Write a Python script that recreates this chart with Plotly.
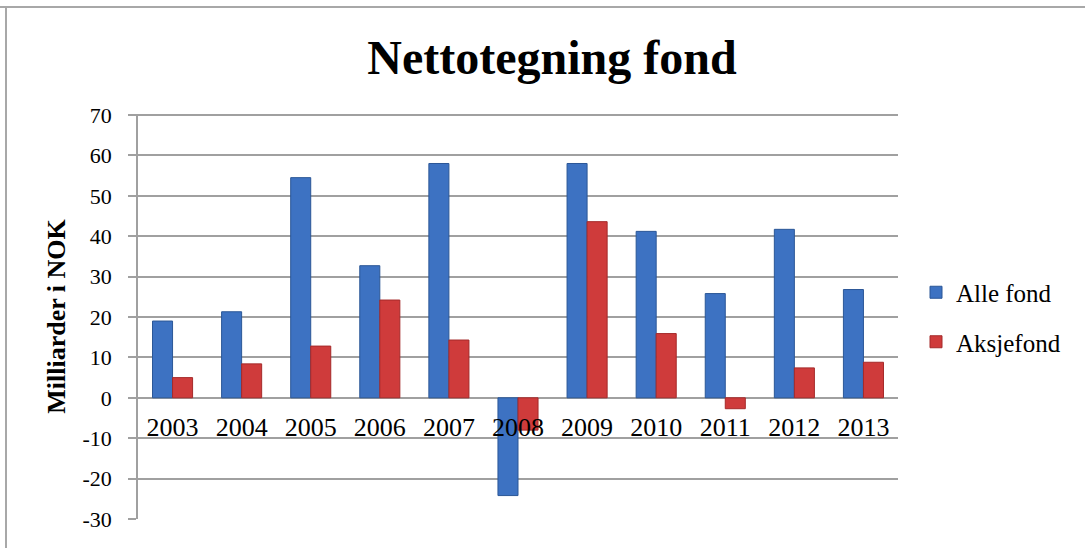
import plotly.graph_objects as go

# Net subscriptions in Norwegian funds, billions NOK
years = ["2003", "2004", "2005", "2006", "2007", "2008",
         "2009", "2010", "2011", "2012", "2013"]
alle_fond = [19.0, 21.3, 54.5, 32.7, 58.0, -24.2, 58.0, 41.2, 25.8, 41.7, 26.8]
aksjefond = [5.0, 8.4, 12.8, 24.2, 14.3, -8.0, 43.6, 15.9, -2.7, 7.4, 8.8]

y_ticks = list(range(-30, 71, 10))
y_labels = [str(v) for v in y_ticks]  # plain hyphen for negatives

W, H = 1085, 548
ML, MR, MT, MB = 138, 187, 114, 29
PW, PH = W - ML - MR, H - MT - MB
Y_MIN, Y_MAX = -30, 70.25

SERIF = "Liberation Serif, Times New Roman, serif"
GRID = "#a0a0a0"


def px_x(p):
    return (p - ML) / PW


def px_y(p):
    return (H - MB - p) / PH


fig = go.Figure()
fig.add_trace(go.Bar(
    x=years, y=alle_fond, name="Alle fond", legendgroup="a",
    marker=dict(color="#3d72c2", line=dict(color="#2b5797", width=1)),
))
fig.add_trace(go.Bar(
    x=years, y=aksjefond, name="Aksjefond", legendgroup="b",
    marker=dict(color="#cf3b3b", line=dict(color="#a52a2a", width=1)),
))

fig.update_layout(
    width=W, height=H,
    margin=dict(l=ML, r=MR, t=MT, b=MB),
    paper_bgcolor="white", plot_bgcolor="white",
    barmode="group", bargap=0.42, bargroupgap=0.0,
    title=dict(text="<b>Nettotegning fond</b>", x=552 / W,
               xanchor="center", y=1 - 57 / H, yanchor="middle",
               font=dict(family=SERIF, size=48, color="black")),
    font=dict(family=SERIF, color="black"),
    legend=dict(x=px_x(916), xanchor="left", y=px_y(317), yanchor="middle",
                font=dict(family=SERIF, size=25, color="black"),
                tracegroupgap=14, bgcolor="rgba(0,0,0,0)"),
    xaxis=dict(type="category", anchor="free",
               position=(0 - Y_MIN) / (Y_MAX - Y_MIN),
               showgrid=False, showline=False, zeroline=False,
               ticks="outside", ticklen=6, tickcolor="rgba(0,0,0,0)",
               tickfont=dict(family=SERIF, size=26, color="black")),
    yaxis=dict(range=[Y_MIN, Y_MAX], tickvals=y_ticks, ticktext=y_labels,
               showgrid=True, gridcolor=GRID, gridwidth=1.5,
               zeroline=True, zerolinecolor=GRID, zerolinewidth=1.5,
               showline=True, linecolor=GRID, linewidth=1.5,
               ticks="outside", ticklen=8, tickcolor=GRID, tickwidth=1.5,
               ticklabelstandoff=12,
               tickfont=dict(family=SERIF, size=22, color="black"),
               title=dict(text="<b>Milliarder i NOK</b>", standoff=9,
                          font=dict(family=SERIF, size=26, color="black"))),
    shapes=[
        dict(type="line", xref="paper", yref="paper",
             x0=px_x(0), x1=px_x(W), y0=px_y(7), y1=px_y(7),
             line=dict(color="#a8a8a8", width=2)),
        dict(type="line", xref="paper", yref="paper",
             x0=px_x(6), x1=px_x(6), y0=px_y(7), y1=px_y(H),
             line=dict(color="#a8a8a8", width=2)),
    ],
)

fig.write_html("out.html")
